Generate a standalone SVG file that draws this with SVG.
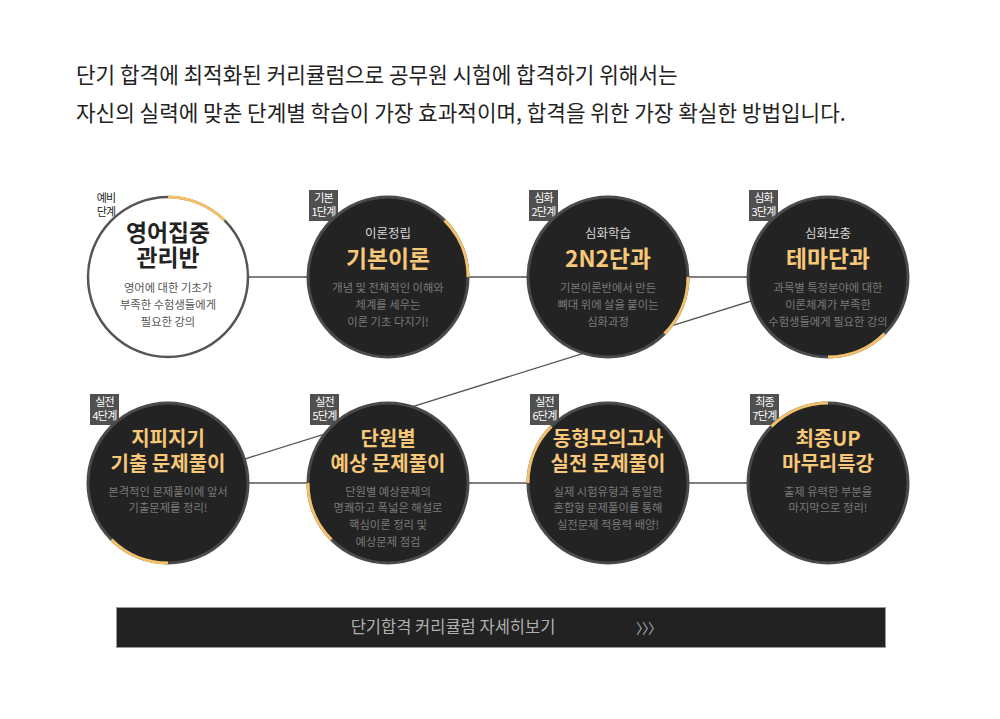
<svg xmlns="http://www.w3.org/2000/svg" width="1000" height="719" viewBox="0 0 1000 719">
<style>
text{font-family:'Noto Sans CJK KR','Noto Sans',sans-serif}
.head{font-size:21.3px;fill:#222}
.dark{fill:#232323;stroke:#4a4a4a;stroke-width:3}
.light{fill:#fff;stroke:#555;stroke-width:2.5}
.arc{fill:none;stroke:#f3c06c;stroke-width:3}
.badge{fill:#505050}
.bt{font-size:11px;fill:#fff;text-anchor:middle;letter-spacing:-0.8px}
.sub{font-size:12.5px;fill:#d8d8d8;text-anchor:middle}
.t1{font-size:22.8px;font-weight:700;fill:#f7c878;text-anchor:middle}
.t2{font-size:20px;font-weight:700;fill:#f7c878;text-anchor:middle}
.b{font-size:11.3px;fill:#7a7a7a;text-anchor:middle}
.conn{stroke:#555;stroke-width:1.3;fill:none}
</style>
<rect width="1000" height="719" fill="#fff"/>
<g id="header">
<text class="head" x="76" y="83">단기 합격에 최적화된 커리큘럼으로 공무원 시험에 합격하기 위해서는</text>
<text class="head" x="76" y="121">자신의 실력에 맞춘 단계별 학습이 가장 효과적이며, 합격을 위한 가장 확실한 방법입니다.</text>
</g>
<g id="connectors">
<line class="conn" x1="168" y1="277" x2="828" y2="277"/>
<line class="conn" x1="828" y1="277" x2="168" y2="483"/>
<line class="conn" x1="168" y1="483" x2="828" y2="483"/>
</g>
<g id="step0">
<text x="106" y="202" style="font-size:11px;fill:#222;text-anchor:middle;letter-spacing:-0.8px">예비</text>
<text x="106" y="216" style="font-size:11px;fill:#222;text-anchor:middle;letter-spacing:-0.8px">단계</text>
<circle class="light" cx="168" cy="277" r="80"/>
<path class="arc" d="M168,197 A80,80 0 0 1 224.57,220.43"/>
<text class="t1" x="168" y="241" style="fill:#222">영어집중</text>
<text class="t1" x="168" y="266" style="fill:#222">관리반</text>
<text class="b" x="168" y="292" style="fill:#555">영어에 대한 기초가</text>
<text class="b" x="168" y="309" style="fill:#555">부족한 수험생들에게</text>
<text class="b" x="168" y="326" style="fill:#555">필요한 강의</text>
</g>
<g id="step1">
<rect class="badge" x="309" y="190" width="29" height="31"/>
<text class="bt" x="323.5" y="202">기본</text>
<text class="bt" x="323.5" y="216">1단계</text>
<circle class="dark" cx="388" cy="277" r="80"/>
<path class="arc" d="M444.57,220.43 A80,80 0 0 1 468,277"/>
<text class="sub" x="388" y="238">이론정립</text>
<text class="t1" x="388" y="267">기본이론</text>
<text class="b" x="388" y="292">개념 및 전체적인 이해와</text>
<text class="b" x="388" y="309">체계를 세우는</text>
<text class="b" x="388" y="326">이론 기초 다지기!</text>
</g>
<g id="step2">
<rect class="badge" x="529" y="190" width="29" height="31"/>
<text class="bt" x="543.5" y="202">심화</text>
<text class="bt" x="543.5" y="216">2단계</text>
<circle class="dark" cx="608" cy="277" r="80"/>
<path class="arc" d="M688,277 A80,80 0 0 1 664.57,333.57"/>
<text class="sub" x="608" y="238">심화학습</text>
<text class="t1" x="608" y="267">2N2단과</text>
<text class="b" x="608" y="292">기본이론반에서 만든</text>
<text class="b" x="608" y="309">뼈대 위에 살을 붙이는</text>
<text class="b" x="608" y="326">심화과정</text>
</g>
<g id="step3">
<rect class="badge" x="749" y="190" width="29" height="31"/>
<text class="bt" x="763.5" y="202">심화</text>
<text class="bt" x="763.5" y="216">3단계</text>
<circle class="dark" cx="828" cy="277" r="80"/>
<path class="arc" d="M884.57,333.57 A80,80 0 0 1 828,357"/>
<text class="sub" x="828" y="238">심화보충</text>
<text class="t1" x="828" y="267">테마단과</text>
<text class="b" x="828" y="292">과목별 특정분야에 대한</text>
<text class="b" x="828" y="309">이론체계가 부족한</text>
<text class="b" x="828" y="326">수험생들에게 필요한 강의</text>
</g>
<g id="step4">
<rect class="badge" x="90" y="394" width="29" height="31"/>
<text class="bt" x="104.5" y="406">실전</text>
<text class="bt" x="104.5" y="420">4단계</text>
<circle class="dark" cx="168" cy="483" r="80"/>
<path class="arc" d="M168,563 A80,80 0 0 1 111.43,539.57"/>
<text class="t2" x="168" y="446">지피지기</text>
<text class="t2" x="168" y="471">기출 문제풀이</text>
<text class="b" x="168" y="496">본격적인 문제풀이에 앞서</text>
<text class="b" x="168" y="512">기출문제를 정리!</text>
</g>
<g id="step5">
<rect class="badge" x="310" y="394" width="29" height="31"/>
<text class="bt" x="324.5" y="406">실전</text>
<text class="bt" x="324.5" y="420">5단계</text>
<circle class="dark" cx="388" cy="483" r="80"/>
<path class="arc" d="M331.43,539.57 A80,80 0 0 1 308,483"/>
<text class="t2" x="388" y="446">단원별</text>
<text class="t2" x="388" y="471">예상 문제풀이</text>
<text class="b" x="388" y="496">단원별 예상문제의</text>
<text class="b" x="388" y="512">명쾌하고 폭넓은 해설로</text>
<text class="b" x="388" y="529">핵심이론 정리 및</text>
<text class="b" x="388" y="546">예상문제 점검</text>
</g>
<g id="step6">
<rect class="badge" x="530" y="394" width="29" height="31"/>
<text class="bt" x="544.5" y="406">실전</text>
<text class="bt" x="544.5" y="420">6단계</text>
<circle class="dark" cx="608" cy="483" r="80"/>
<path class="arc" d="M528,483 A80,80 0 0 1 551.43,426.43"/>
<text class="t2" x="608" y="446">동형모의고사</text>
<text class="t2" x="608" y="471">실전 문제풀이</text>
<text class="b" x="608" y="496">실제 시험유형과 동일한</text>
<text class="b" x="608" y="512">혼합형 문제풀이를 통해</text>
<text class="b" x="608" y="529">실전문제 적용력 배양!</text>
</g>
<g id="step7">
<rect class="badge" x="750" y="394" width="29" height="31"/>
<text class="bt" x="764.5" y="406">최종</text>
<text class="bt" x="764.5" y="420">7단계</text>
<circle class="dark" cx="828" cy="483" r="80"/>
<path class="arc" d="M771.43,426.43 A80,80 0 0 1 828,403"/>
<text class="t2" x="828" y="446">최종UP</text>
<text class="t2" x="828" y="471">마무리특강</text>
<text class="b" x="828" y="496">출제 유력한 부분을</text>
<text class="b" x="828" y="512">마지막으로 정리!</text>
</g>
<g id="button">
<rect x="116.5" y="607.5" width="769" height="40" fill="#222" stroke="#999" stroke-width="1"/>
<text x="453" y="633" style="font-size:16.5px;fill:#b0b0b0;text-anchor:middle">단기합격 커리큘럼 자세히보기</text>
<text x="636" y="633" style="font-size:14px;fill:#b0b0b0;letter-spacing:-1px">〉〉〉</text>
</g>
</svg>
